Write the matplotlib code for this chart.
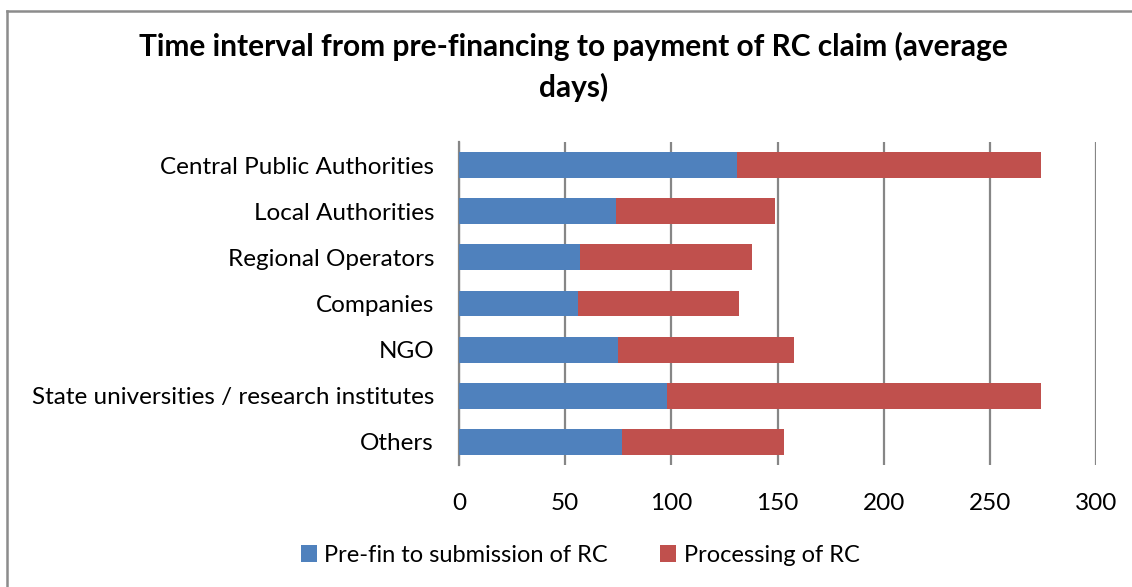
import matplotlib.pyplot as plt
from matplotlib.lines import Line2D
import numpy as np

categories = ["Central Public Authorities", "Local Authorities", "Regional Operators",
              "Companies", "NGO", "State universities / research institutes", "Others"]
prefin = [131, 74, 57, 56, 75, 98, 77]
processing = [143, 75, 81, 76, 83, 176, 76]

BLUE = "#4F81BD"
RED = "#C0504D"
GRID = "#868686"

plt.rcParams["font.family"] = ["Lato", "DejaVu Sans"]

fig = plt.figure(figsize=(11.32, 5.87), dpi=100)
ax = fig.add_axes([459 / 1132, 1 - 465 / 587, (1096 - 459) / 1132, (465 - 142) / 587])

y = np.arange(len(categories))
ax.barh(y, prefin, height=0.56, color=BLUE, label="Pre-fin to submission of RC", zorder=3)
ax.barh(y, processing, left=prefin, height=0.56, color=RED, label="Processing of RC", zorder=3)

ax.set_xlim(0, 300)
ax.set_ylim(len(categories) - 0.5, -0.5)
ax.set_xticks(range(0, 301, 50))
ax.set_yticks(y)
ax.set_yticklabels(categories, fontsize=17.5)
ax.tick_params(axis="x", length=0, pad=20, labelsize=17.5)
ax.tick_params(axis="y", length=0, pad=18)
ax.xaxis.grid(True, color=GRID, linewidth=1.6, zorder=0)

for s in ["top", "right", "bottom"]:
    ax.spines[s].set_visible(False)
ax.spines["left"].set_color(GRID)
ax.spines["left"].set_linewidth(1.6)

fig.suptitle("Time interval from pre-financing to payment of RC claim (average\ndays)",
             x=0.507, y=1 - 32 / 587, va="top", fontsize=21.5, fontweight="bold",
             linespacing=1.5)

fig.legend(loc="center", bbox_to_anchor=(580 / 1132, 1 - 555 / 587), ncol=2,
           frameon=False, fontsize=17, handlelength=0.7, handleheight=0.7,
           handletextpad=0.3, columnspacing=2.2)

# outer chart border (only top and left visible in the crop)
fig.add_artist(Line2D([7 / 1132, 7 / 1132], [0, 1 - 11 / 587], transform=fig.transFigure,
                      color="#8c8c8c", linewidth=1.8))
fig.add_artist(Line2D([7 / 1132, 1], [1 - 11 / 587, 1 - 11 / 587], transform=fig.transFigure,
                      color="#8c8c8c", linewidth=1.8))

fig.savefig("out.png", dpi=100)
